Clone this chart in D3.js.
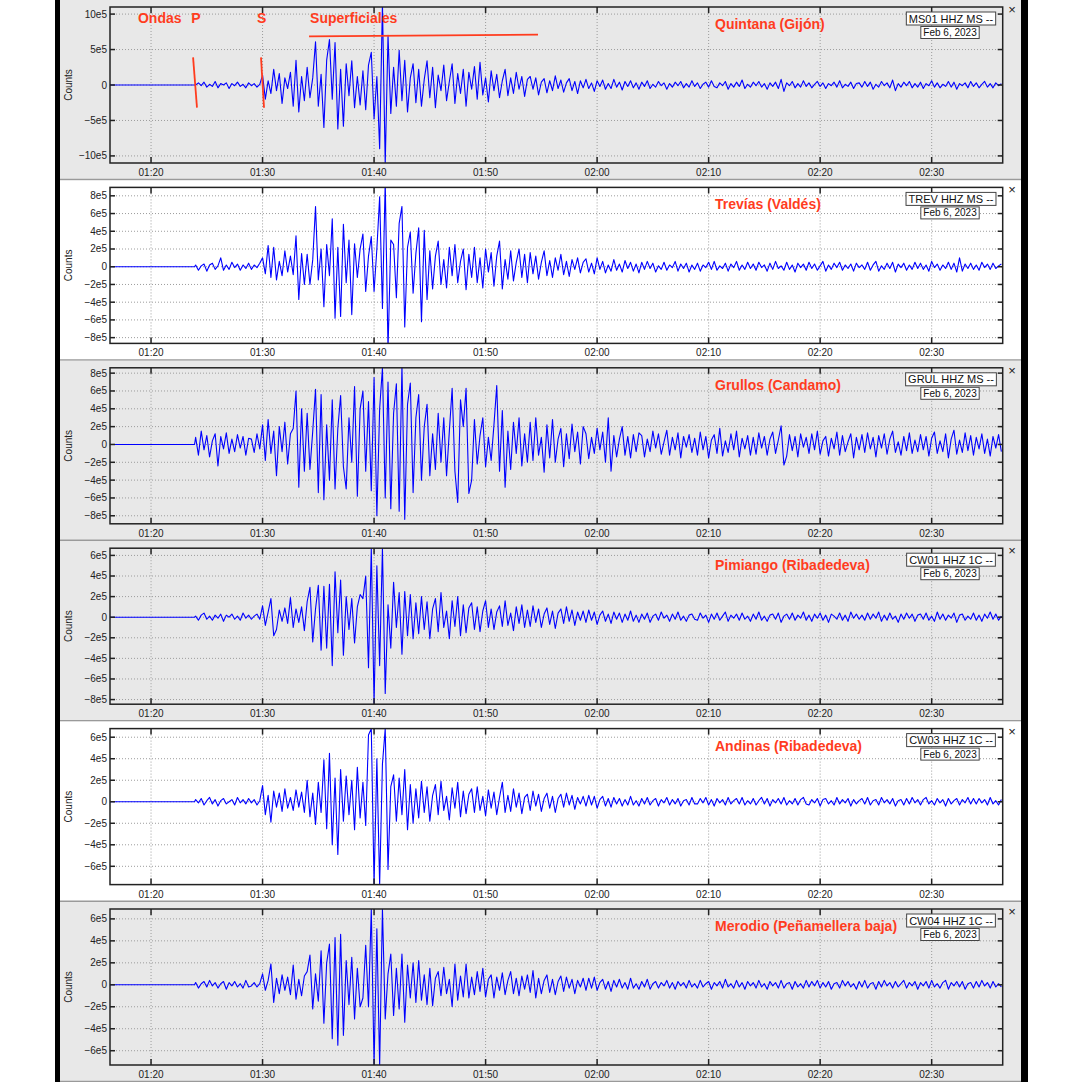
<!DOCTYPE html>
<html>
<head>
<meta charset="utf-8">
<script src="https://cdn.jsdelivr.net/npm/d3@7"></script>
<style>
  body { margin: 0; background: #fff; }
  text { font-family: "Liberation Sans", Arial, sans-serif; }
</style>
</head>
<body>
<svg id="chart" width="1082" height="1082"></svg>
<script>
// station names and channel ids, top to bottom
const stations = ['Quintana (Gijón)', 'Trevías (Valdés)', 'Grullos (Candamo)', 'Pimiango (Ribadedeva)', 'Andinas (Ribadedeva)', 'Merodio (Peñamellera baja)'];
const channels = ['MS01 HHZ MS --', 'TREV HHZ MS --', 'GRUL HHZ MS --', 'CW01 HHZ 1C --', 'CW03 HHZ 1C --', 'CW04 HHZ 1C --'];
const dateLabel = 'Feb 6, 2023';

// time is in minutes after 01:00
const timeDomain = [16.32, 96.37];
const timeTicks = [20, 30, 40, 50, 60, 70, 80, 90];
const timeLabels = ['01:20', '01:30', '01:40', '01:50', '02:00', '02:10', '02:20', '02:30'];

const yDomains = [[-11e5, 11e5], [-8.65e5, 8.95e5], [-8.9e5, 8.6e5], [-8.45e5, 6.7e5], [-7.7e5, 6.8e5], [-7.3e5, 6.9e5]];
const yTicks = [
  [-10e5, -5e5, 0, 5e5, 10e5],
  [-8e5, -6e5, -4e5, -2e5, 0, 2e5, 4e5, 6e5, 8e5],
  [-8e5, -6e5, -4e5, -2e5, 0, 2e5, 4e5, 6e5, 8e5],
  [-8e5, -6e5, -4e5, -2e5, 0, 2e5, 4e5, 6e5],
  [-6e5, -4e5, -2e5, 0, 2e5, 4e5, 6e5],
  [-6e5, -4e5, -2e5, 0, 2e5, 4e5, 6e5]
];
const selected = [true, false, true, true, false, true];

// traces: one value every 15 s from 01:24, in units of 1e4 counts; flat before the P onset
const onset = 23.9;
const traceStart = 24;
const traceStep = 0.25;
const traceUnit = 1e4;

const quintana = [
  0, 3, -1, 4, -3, 1, -2, 5, -4, 2, 0, 3, -5, 2, -1, 4, -2, 1, -4, 3,
  -1, 2, -3, 1, 14, -20, 6, -12, 22, -8, 16, -26, 10, -5, 18, -30, 35, -38, 12, -22,
  25, -18, 10, 61, -30, 15, -60, 35, 64, -20, 60, -62, 22, -58, 30, -15, 34, -32, 12, -28,
  20, -35, 28, 46, -48, 12, -90, 115, -112, 70, -40, 25, -30, 49, -22, 35, -38, 10, 30, -25,
  22, -30, 8, 34, -18, 25, -32, 14, -8, 28, -22, 5, 30, -26, 16, -12, 22, -30, 18, -6,
  26, -20, 32, -14, 10, -24, 20, -8, 15, -18, 6, 22, -15, 10, -12, 18, -6, 12, -16, 8,
  12, -6, 10, -14, 4, 9, -11, 6, -8, 13, -5, 7, -10, 3, 9, -8, 5, -12, 6, -4,
  8, -5, 3, -9, 6, -2, 7, -6, 2, -5, 8, -3, 4, -7, 5, -2, 6, -4, 3, -6,
  4, -2, 6, -5, 1, -3, 5, -1, 3, -6, 2, -3, 4, -1, 5, -4, 2, -3, 6, -2,
  3, -5, 1, 4, -3, 6, -2, -4, 3, -1, 5, -6, 2, -3, 4, -2, 7, -5, 1, -3,
  4, -1, 5, -3, 2, -6, 3, -2, 4, -5, 8, -9, 3, -1, 5, -4, 2, -3, 6, -2,
  3, -4, 1, 5, -2, 3, -5, 2, -1, 4, -3, 6, -4, 1, -2, 4, -5, 2, 3, -3,
  5, -2, 4, -6, 1, -3, 5, -1, 3, -4, 7, -8, 2, -3, 4, -1, 5, -4, 2, -3,
  4, -5, 2, -1, 6, -3, 3, -4, 1, -2, 5, -3, 4, -6, 2, -1, 3, -4, 5, -2,
  3, -4, 1, 5, -3, 2, -4, 3, -1, 2
];
const trevias = [
  2, -4, 1, 3, -5, 2, 4, -3, 1, 10, -4, 2, -3, 5, -1, 3, -4, 2, -2, 4,
  -3, 2, -1, 4, 10, -8, 24, -12, 22, -15, 6, -10, 18, -6, 12, -9, 35, -37, 15, -20,
  14, -20, 8, 68, -15, 20, -45, 25, -10, 54, -58, 22, -56, 48, -18, 30, -54, 26, -12, 20,
  37, -28, 12, 34, -28, 20, 79, -47, 96, -94, 30, 25, -35, 49, 68, -68, 22, 39, -30, 15,
  44, -62, 41, -37, 18, -25, 12, 29, -20, 8, -24, 22, -10, 25, -18, 6, 20, -26, 14, -12,
  22, -18, 10, -24, 20, -6, 16, -22, 12, 29, -25, 8, -14, 18, -16, 5, 20, -12, 14, -18,
  16, -8, 12, -14, 5, 18, -10, 7, -12, 10, -4, 14, -9, 6, -11, 8, -3, 10, -7, 5,
  9, -6, 4, -8, 10, -3, 6, -7, 2, -5, 8, -4, 3, -6, 7, -2, 5, -5, 3, -7,
  5, -3, 6, -2, 4, -6, 1, -3, 5, -4, 2, -1, 6, -5, 3, -2, 4, -6, 2, -3,
  4, -5, 2, -1, 5, -3, 6, -4, 1, -2, 4, -5, 3, -1, 6, -4, 2, -3, 5, -2,
  3, -4, 5, -1, 2, -5, 4, -3, 6, -2, 1, -4, 5, -3, 2, -6, 4, -1, 3, -4,
  5, -2, 3, -4, 1, 6, -5, 2, -3, 4, -1, 5, -4, 2, -2, 3, -5, 4, -1, 2,
  -3, 5, -4, 2, 6, -5, 1, -3, 4, -2, 5, -6, 3, -1, 4, -4, 2, -3, 5, -2,
  4, -3, 2, -5, 6, -1, 3, -4, 2, -2, 5, -3, 4, -6, 10, -5, 3, -2, 4, -3,
  2, -4, 5, -1, 3, -3, 4, -2, 1, 3
];
const grullos = [
  8, -12, 15, -6, 10, -14, 4, 12, -24, 9, -5, 13, -10, 6, -8, 11, -4, 9, -12, 7,
  6, -9, 12, -5, 22, -18, 28, -10, 15, -35, 20, -8, 25, -22, 12, 18, 60, -48, 40, -30,
  35, -28, 15, 62, -54, 56, -62, 22, -40, 50, -50, 18, 55, -25, -50, 30, -20, 65, -58, 40,
  60, -30, 48, -52, 75, -80, 40, 86, -60, 70, -72, 35, 68, -75, 88, -84, 45, 69, -54, 30,
  56, -40, 20, 45, -35, 12, -28, 35, -20, 30, -35, 15, 63, -30, -65, 50, 20, 63, -55, -40,
  28, -22, 10, 30, -25, 8, -18, 22, 66, -30, 38, -48, 15, -28, 25, -10, 30, -24, 12, -20,
  25, -18, 30, -12, 8, -31, 22, -15, 28, -20, 6, 18, -25, 12, -16, 23, -8, 14, -22, 20,
  12, -16, 8, -10, 18, -6, 14, -20, 30, -30, 10, -14, 6, 20, -12, 9, -15, 11, -8, 13,
  10, -14, 6, -8, 15, -4, 12, -11, 3, 16, -12, 8, -6, 13, -15, 9, -3, 11, -9, 7,
  -12, 14, -6, 9, -15, 5, 11, -10, 18, -13, 4, -9, 12, -6, 15, -14, 7, -5, 10, -12,
  8, -11, 13, -4, 9, -12, 6, 14, -10, 5, 21, -23, -13, 11, -7, 9, -14, 12, -3, 8,
  -10, 12, -6, 15, -11, 4, 9, -13, 7, -5, 14, -12, 10, -8, 3, 12, -15, 8, -6, 11,
  -9, 13, -5, 8, -14, 10, -4, 12, -11, 6, 15, -9, 3, -12, 9, -7, 13, -10, 5, -8,
  11, -6, 9, -13, 7, 14, -10, 4, -8, 12, -15, 6, 16, -11, 5, -9, 13, -7, 10, -12,
  8, -5, 12, -10, 6, -13, 9, -4, 11, -8
];
const pimiango = [
  1, -3, 2, 4, -2, 1, -3, 2, -1, 3, -4, 2, 0, 3, -2, 1, -3, 4, -1, 2,
  -2, 1, 3, -2, 11, -8, 5, 18, -18, -12, 7, -4, 9, -6, 19, -10, 8, -5, 10, -13,
  15, 29, -24, 8, 31, -32, 30, -30, 32, -47, 44, -15, 36, -37, 20, -12, 18, -25, 10, 22,
  18, 40, -49, 67, -84, 50, -47, 67, -74, 12, -30, 34, -10, 24, -36, 25, -18, 22, -21, 14,
  -16, 20, -12, 15, -21, 8, 18, -14, 24, -10, 6, -21, 16, -9, 20, -18, 12, -15, 9, 14,
  -12, 10, -14, 6, 16, -10, 8, -12, 5, 11, -9, 16, -8, 4, -13, 10, -6, 12, -10, 7,
  -9, 11, -5, 8, -10, 3, 9, -7, 6, -11, 4, 8, -6, 10, -4, 7, -8, 5, -3, 6,
  -5, 7, -3, 5, -7, 2, 6, -4, 3, -6, 5, -2, 4, -5, 3, -3, 6, -4, 2, -5,
  3, -2, 4, -5, 1, 3, -3, 5, -1, 2, -4, 3, -2, 5, -3, 1, -4, 2, 3, -2,
  -3, 4, -1, 2, -5, 3, -2, 4, -3, 1, 5, -4, 2, -1, 3, -3, 4, -2, 1, -4,
  3, -2, 5, -3, 1, -4, 2, 3, -2, 4, -5, 1, 3, -2, 4, -3, 2, -1, 5, -3,
  2, -4, 3, -1, 4, -3, 2, -5, 3, 1, -2, 4, -3, 2, -4, 5, -1, 3, -2, 2,
  -3, 4, -2, 3, -1, 5, -4, 2, -3, 4, -2, 1, -5, 3, -2, 4, -1, 3, -4, 2,
  3, -2, 4, -3, 1, -4, 5, -2, 3, -3, 2, -1, 4, -5, 2, 3, -3, 1, -2, 4,
  -3, 2, -4, 3, -1, 5, -2, 3, -3, 1
];
const andinas = [
  2, -1, 3, -3, 1, 4, -2, 2, -4, 1, 3, -2, 0, 2, -3, 4, -1, 2, -2, 3,
  -1, 2, -3, 1, 15, -12, 6, -19, 10, -5, 8, -9, 12, -6, 4, -8, 11, -5, 9, -10,
  20, -14, 8, -21, 18, -10, 39, -25, 45, -40, 22, -49, 30, -18, 24, -12, 20, -26, 32, -15,
  18, -22, 62, 68, -77, 40, -77, 35, 68, -63, 14, 25, -18, 22, -12, 30, -26, 16, -20, 12,
  -15, 19, -10, 14, -18, 6, 16, -12, 19, -8, 5, -17, 13, -6, 18, -14, 10, -11, 7, 12,
  -10, 14, -8, 5, -13, 11, -6, 9, -12, 4, 18, -10, 6, -9, 12, -5, 8, -11, 4, 7,
  -8, 10, -4, 7, -9, 3, 8, -6, 5, -10, 3, 7, -5, 8, -3, 6, -7, 4, -2, 5,
  -4, 6, -3, 5, -6, 2, 5, -4, 3, -5, 4, -2, 3, -4, 2, -3, 5, -3, 1, -4,
  3, -2, 4, -3, 1, 3, -4, 2, -1, 4, -3, 2, -2, 3, -4, 1, 2, -3, 4, -2,
  -2, 3, -1, 4, -3, 2, -4, 3, -1, 2, -3, 4, -2, 1, 3, -2, 4, -3, 1, -2,
  3, -3, 1, 4, -2, 3, -4, 2, -1, 3, -2, 4, -3, 1, -2, 3, -3, 2, 4, -2,
  -3, 2, -1, 3, -4, 2, 3, -2, 1, -3, 4, -2, 2, -1, 3, -4, 2, -2, 1, 3,
  -2, 4, -3, 1, 2, -3, 4, -1, 2, -2, 3, -4, 1, 2, -3, 3, -2, 4, -1, 2,
  -3, 2, 4, -2, 1, -3, 3, -1, 2, -4, 3, -2, 1, 3, -3, 2, -1, 4, -2, 3,
  -2, 3, -1, 2, -3, 4, -2, 1, -3, 2
];
const merodio = [
  2, -3, 1, 3, -2, 4, -1, 2, -3, 1, 3, -4, 2, -1, 3, -2, 1, -3, 4, -2,
  -1, 2, -2, 1, 10, -5, 4, 19, -16, 6, -8, 9, -5, 7, -9, 18, -13, 5, -10, 8,
  12, 27, -22, 10, -15, 31, -35, 20, 37, -49, 43, -55, 46, -46, 22, -18, 25, -31, 15, -20,
  -12, 36, -20, 69, -73, 51, -73, 69, -31, 10, 28, -28, 15, -22, 28, -34, 18, -12, 20, -16,
  22, -14, 9, -18, 15, -19, 6, 12, -10, 16, -8, 5, -20, 19, -14, 8, -11, 19, -12, 7,
  -9, 12, -6, 15, -11, 5, 9, -12, 7, -5, 11, -9, 4, 12, -8, 6, -10, 8, -4, 9,
  -7, 13, -12, 6, -8, 4, 9, -7, 5, -9, 3, 8, -6, 7, -3, 5, -8, 4, -2, 6,
  -5, 6, -3, 7, -5, 2, 5, -4, 3, -6, 4, -2, 5, -3, 2, -4, 6, -3, 1, -4,
  3, -2, 5, -4, 1, 3, -3, 2, -1, 4, -3, 2, -4, 3, -1, 2, -3, 4, -2, 1,
  -3, 4, -2, 1, 3, -4, 2, -1, 3, -3, 5, -2, 1, -3, 4, -2, 2, -4, 3, -1,
  2, -3, 4, -2, 1, -4, 3, -1, 2, -3, 4, -3, 1, 2, -4, 3, -2, 1, -3, 4,
  -2, 3, -1, 4, -3, 2, -2, 3, -4, 1, 2, -3, 4, -1, 3, -2, 1, -4, 3, -2,
  4, -3, 1, 2, -4, 3, -2, 4, -1, 2, -3, 3, -2, 1, 4, -3, 2, -1, 3, -4,
  2, -1, 3, -3, 4, -2, 1, -3, 2, 4, -4, 2, -1, 3, -2, 3, -4, 1, 2, -3,
  3, -2, 4, -1, 2, -3, 3, -2, 1, -2
];
const traces = [quintana, trevias, grullos, pimiango, andinas, merodio];

// hand annotations on the first panel (time in minutes, value in counts)
const noteTexts = [
  { text: 'Ondas', t: 18.83, v: 8.8e5 },
  { text: 'P', t: 23.6, v: 8.8e5 },
  { text: 'S', t: 29.5, v: 8.8e5 },
  { text: 'Superficiales', t: 34.26, v: 8.8e5 }
];
const noteLines = [
  [[23.77, 3.9e5], [24.12, -3.2e5]],
  [[29.86, 3.9e5], [30.13, -3.2e5]],
  [[34.17, 6.85e5], [54.7, 7.1e5]]
];

const red = '#ff3c1e';
const svg = d3.select('#chart');
const panelH = 180.4;
const left = 110, right = 1002.7, plotTop = 7, plotH = 156;

const x = d3.scaleLinear().domain(timeDomain).range([left, right]);

// black strips on the sides
svg.append('rect').attr('x', 55).attr('y', 0).attr('width', 5).attr('height', 1082).attr('fill', '#000');
svg.append('rect').attr('x', 1021).attr('y', 0).attr('width', 7).attr('height', 1082).attr('fill', '#000');

function fmt(v) {
  if (v === 0) return '0';
  return (v < 0 ? '\u2212' : '') + Math.abs(v / 1e5) + 'e5';
}

traces.forEach((trace, i) => {
  const T = i * panelH;
  const g = svg.append('g').attr('transform', `translate(0,${T})`);
  const bg = selected[i] ? '#e8e8e8' : '#ffffff';
  g.append('rect').attr('x', 60).attr('y', 0).attr('width', 961).attr('height', 179).attr('fill', bg);
  g.append('line').attr('x1', 60).attr('x2', 1021).attr('y1', 179.6).attr('y2', 179.6)
    .attr('stroke', '#9a9a9a').attr('stroke-width', 1.6);

  const y = d3.scaleLinear().domain(yDomains[i]).range([plotTop + plotH, plotTop]);

  // grid
  g.selectAll('.gy').data(yTicks[i]).join('line')
    .attr('x1', left).attr('x2', right).attr('y1', d => y(d)).attr('y2', d => y(d))
    .attr('stroke', '#9c9c9c').attr('stroke-dasharray', '1,2');
  g.selectAll('.gx').data(timeTicks).join('line')
    .attr('x1', d => x(d)).attr('x2', d => x(d)).attr('y1', plotTop).attr('y2', plotTop + plotH)
    .attr('stroke', '#9c9c9c').attr('stroke-dasharray', '1,2');

  // trace
  const clipId = 'clip' + i;
  g.append('clipPath').attr('id', clipId).append('rect')
    .attr('x', left).attr('y', plotTop).attr('width', right - left).attr('height', plotH);
  const pts = [[timeDomain[0], 0], [onset, 0]]
    .concat(trace.map((v, k) => [traceStart + k * traceStep, v * traceUnit]));
  g.append('path').datum(pts)
    .attr('clip-path', `url(#${clipId})`)
    .attr('d', d3.line().x(d => x(d[0])).y(d => y(d[1])))
    .attr('fill', 'none').attr('stroke', '#0000ff').attr('stroke-width', 1.1).attr('stroke-linejoin', 'round');

  // frame and ticks
  g.append('rect').attr('x', left).attr('y', plotTop).attr('width', right - left).attr('height', plotH)
    .attr('fill', 'none').attr('stroke', '#222').attr('stroke-width', 1.5);
  yTicks[i].forEach(d => {
    g.append('line').attr('x1', left).attr('x2', left + 5).attr('y1', y(d)).attr('y2', y(d)).attr('stroke', '#222').attr('stroke-width', 1.5);
    g.append('line').attr('x1', right - 5).attr('x2', right).attr('y1', y(d)).attr('y2', y(d)).attr('stroke', '#222').attr('stroke-width', 1.5);
  });
  timeTicks.forEach(d => {
    g.append('line').attr('x1', x(d)).attr('x2', x(d)).attr('y1', plotTop).attr('y2', plotTop + 6).attr('stroke', '#222').attr('stroke-width', 1.5);
    g.append('line').attr('x1', x(d)).attr('x2', x(d)).attr('y1', plotTop + plotH - 6).attr('y2', plotTop + plotH).attr('stroke', '#222').attr('stroke-width', 1.5);
  });

  // tick labels
  g.selectAll('.yl').data(yTicks[i]).join('text')
    .attr('x', left - 3).attr('y', d => y(d) + 3.5).attr('text-anchor', 'end')
    .attr('font-size', 10).attr('fill', '#222').text(fmt);
  g.selectAll('.xl').data(timeTicks).join('text')
    .attr('x', d => x(d)).attr('y', plotTop + plotH + 13).attr('text-anchor', 'middle')
    .attr('font-size', 10).attr('fill', '#222').text((d, k) => timeLabels[k]);
  g.append('text').attr('transform', `translate(72,${plotTop + plotH / 2}) rotate(-90)`)
    .attr('text-anchor', 'middle').attr('font-size', 10).attr('fill', '#222').text('Counts');

  // station name
  g.append('text').attr('x', 715).attr('y', 29).attr('font-size', 14).attr('font-weight', 'bold')
    .attr('fill', red).text(stations[i]);

  // channel and date boxes
  const boxes = [[channels[i], 11, 951, 22.5], [dateLabel, 10, 950, 36]];
  boxes.forEach(([label, size, cx, base]) => {
    const r = g.append('rect');
    const t = g.append('text').attr('x', cx).attr('y', base).attr('text-anchor', 'middle')
      .attr('font-size', size).attr('fill', '#111').text(label);
    const w = t.node().getComputedTextLength();
    r.attr('x', cx - w / 2 - 2.5).attr('y', base - size + 0.5).attr('width', w + 5).attr('height', size + 2)
      .attr('fill', '#fff').attr('stroke', '#444').attr('stroke-width', 1);
  });
  g.append('text').attr('x', 1012).attr('y', 14).attr('text-anchor', 'middle')
    .attr('font-size', 13).attr('fill', '#222').text('\u00d7');

  if (i === 0) {
    g.selectAll('.nt').data(noteTexts).join('text')
      .attr('x', d => x(d.t)).attr('y', d => y(d.v)).attr('font-size', 14).attr('font-weight', 'bold')
      .attr('fill', red).text(d => d.text);
    g.selectAll('.nl').data(noteLines).join('line')
      .attr('x1', d => x(d[0][0])).attr('y1', d => y(d[0][1]))
      .attr('x2', d => x(d[1][0])).attr('y2', d => y(d[1][1]))
      .attr('stroke', red).attr('stroke-width', 1.8);
  }
});
</script>
</body>
</html>
